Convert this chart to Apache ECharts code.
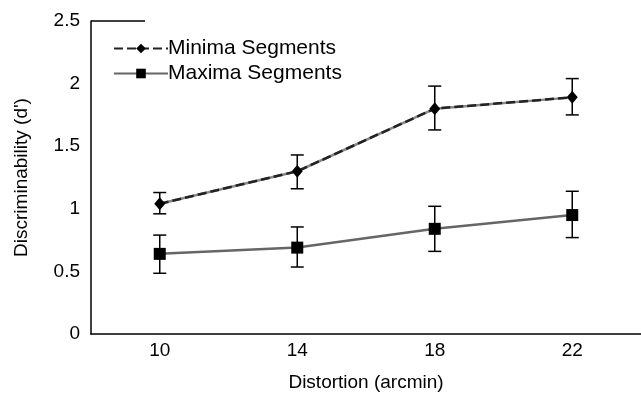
<!DOCTYPE html>
<html><head><meta charset="utf-8">
<script src="https://cdn.jsdelivr.net/npm/echarts@6/dist/echarts.min.js"></script>
<style>html,body{margin:0;padding:0;background:#fff}#c{width:641px;height:399px}</style>
</head><body><div id="c"></div>
<script>
const categories = ['10', '14', '18', '22'];
const minimaMean = [1.04, 1.30, 1.80, 1.89];
const minimaHigh = [1.13, 1.43, 1.98, 2.04];
const minimaLow  = [0.96, 1.16, 1.63, 1.75];
const maximaMean = [0.64, 0.69, 0.84, 0.95];
const maximaHigh = [0.79, 0.855, 1.02, 1.14];
const maximaLow  = [0.485, 0.535, 0.66, 0.77];
const yTicks = [0, 0.5, 1, 1.5, 2, 2.5];

const errData = [];
categories.forEach((c, i) => {
  errData.push([i, minimaLow[i], minimaHigh[i]]);
  errData.push([i, maximaLow[i], maximaHigh[i]]);
});

const font = 'Liberation Sans, Arial, sans-serif';
const chart = echarts.init(document.getElementById('c'), null, {renderer: 'canvas'});
chart.setOption({
  animation: false,
  backgroundColor: '#fff',
  grid: {left: 91, right: 0, top: 21, bottom: 65},
  legend: {
    left: 108, top: 33, orient: 'vertical', itemWidth: 54, itemHeight: 12, itemGap: 4,
    textStyle: {fontFamily: font, fontSize: 21, color: '#000', padding: [0, 0, 0, -5]},
    data: ['Minima Segments', 'Maxima Segments']
  },
  xAxis: {
    type: 'category', data: categories, boundaryGap: true,
    axisLine: {lineStyle: {color: '#000', width: 1.5}},
    axisTick: {show: false},
    axisLabel: {fontFamily: font, fontSize: 19, color: '#000', margin: 7},
    name: 'Distortion (arcmin)', nameLocation: 'middle', nameGap: 39,
    nameTextStyle: {fontFamily: font, fontSize: 19, color: '#000'}
  },
  yAxis: {
    type: 'value', min: 0, max: 2.5, interval: 0.5,
    axisLine: {show: true, lineStyle: {color: '#000', width: 1.5}},
    axisTick: {show: false},
    splitLine: {show: false},
    axisLabel: {fontFamily: font, fontSize: 19, color: '#000', margin: 11,
      formatter: v => yTicks.includes(v) ? String(v) : ''},
    name: "Discriminability (d')", nameLocation: 'middle', nameGap: 60, nameRotate: 90,
    nameTextStyle: {fontFamily: font, fontSize: 19, color: '#000'}
  },
  graphic: [{
    type: 'line', shape: {x1: 91, y1: 21, x2: 145, y2: 21},
    style: {stroke: '#000', lineWidth: 1.5}
  }],
  series: [
    {
      type: 'custom', name: 'err', silent: true, z: 3,
      data: errData,
      renderItem: (params, api) => {
        const lo = api.coord([api.value(0), api.value(1)]);
        const hi = api.coord([api.value(0), api.value(2)]);
        const hw = 6.5;
        const st = {stroke: '#000', lineWidth: 1.5};
        return {type: 'group', children: [
          {type: 'line', shape: {x1: lo[0], y1: lo[1], x2: hi[0], y2: hi[1]}, style: st},
          {type: 'line', shape: {x1: lo[0]-hw, y1: lo[1], x2: lo[0]+hw, y2: lo[1]}, style: st},
          {type: 'line', shape: {x1: hi[0]-hw, y1: hi[1], x2: hi[0]+hw, y2: hi[1]}, style: st}
        ]};
      }
    },
    {
      type: 'line', name: 'minUnder', data: minimaMean, z: 4, symbol: 'none',
      lineStyle: {color: '#888', width: 2.5}
    },
    {
      type: 'line', name: 'Minima Segments', data: minimaMean, z: 5,
      symbol: 'diamond', symbolSize: [11, 13],
      itemStyle: {color: '#000'},
      lineStyle: {color: '#222', width: 2.5, type: [9, 4]}
    },
    {
      type: 'line', name: 'Maxima Segments', data: maximaMean, z: 5,
      symbol: 'rect', symbolSize: 12,
      itemStyle: {color: '#000'},
      lineStyle: {color: '#666', width: 2.5}
    }
  ]
});
</script></body></html>
